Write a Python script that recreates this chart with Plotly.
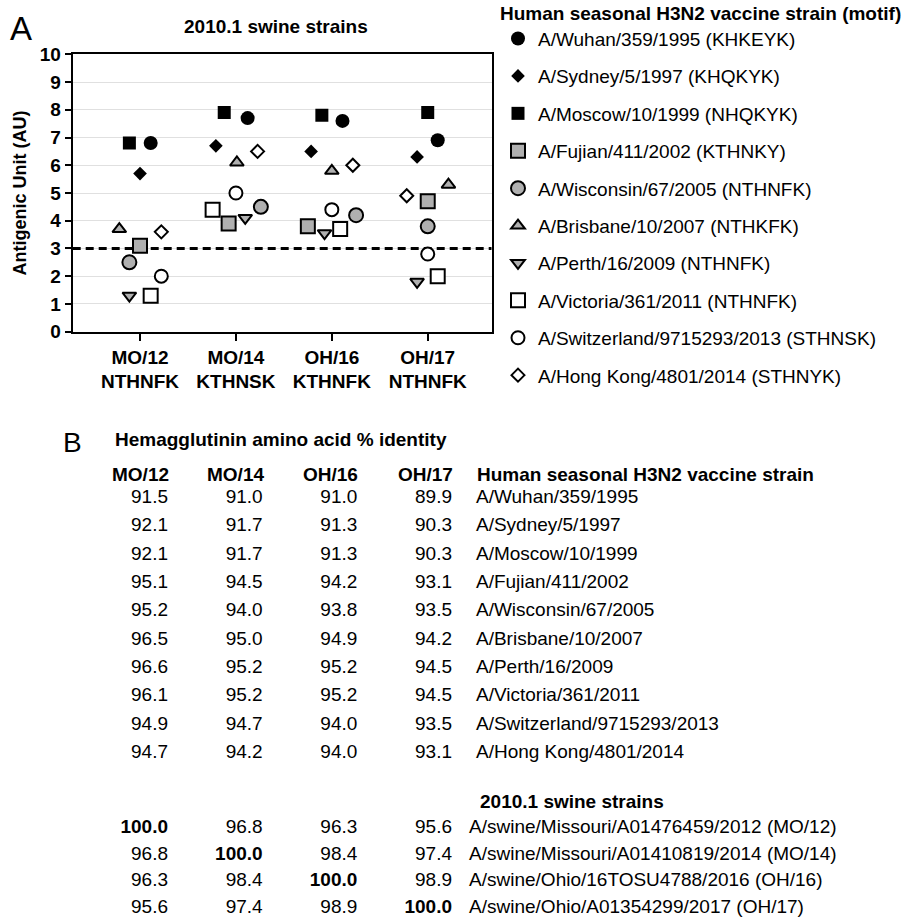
import plotly.graph_objects as go

# ---------------- data ----------------
categories = ["MO/12", "MO/14", "OH/16", "OH/17"]
category_motifs = ["NTHNFK", "KTHNSK", "KTHNFK", "NTHNFK"]

strains = ["A/Wuhan/359/1995", "A/Sydney/5/1997", "A/Moscow/10/1999",
           "A/Fujian/411/2002", "A/Wisconsin/67/2005", "A/Brisbane/10/2007",
           "A/Perth/16/2009", "A/Victoria/361/2011",
           "A/Switzerland/9715293/2013", "A/Hong Kong/4801/2014"]
strain_motifs = ["KHKEYK", "KHQKYK", "NHQKYK", "KTHNKY", "NTHNFK",
                 "NTHKFK", "NTHNFK", "NTHNFK", "STHNSK", "STHNYK"]

# antigenic units (AU) against MO/12, MO/14, OH/16, OH/17
au_wuhan = [6.8, 7.7, 7.6, 6.9]
au_sydney = [5.7, 6.7, 6.5, 6.3]
au_moscow = [6.8, 7.9, 7.8, 7.9]
au_fujian = [3.1, 3.9, 3.8, 4.7]
au_wisconsin = [2.5, 4.5, 4.2, 3.8]
au_brisbane = [3.7, 6.1, 5.8, 5.3]
au_perth = [1.3, 4.1, 3.55, 1.8]
au_victoria = [1.3, 4.4, 3.7, 2.0]
au_switzerland = [2.0, 5.0, 4.4, 2.8]
au_hongkong = [3.6, 6.5, 6.0, 4.9]
threshold = 3

# hemagglutinin amino acid % identity
identity_mo12 = [91.5, 92.1, 92.1, 95.1, 95.2, 96.5, 96.6, 96.1, 94.9, 94.7]
identity_mo14 = [91.0, 91.7, 91.7, 94.5, 94.0, 95.0, 95.2, 95.2, 94.7, 94.2]
identity_oh16 = [91.0, 91.3, 91.3, 94.2, 93.8, 94.9, 95.2, 95.2, 94.0, 94.0]
identity_oh17 = [89.9, 90.3, 90.3, 93.1, 93.5, 94.2, 94.5, 94.5, 93.5, 93.1]

swine_strains = ["A/swine/Missouri/A01476459/2012 (MO/12)",
                 "A/swine/Missouri/A01410819/2014 (MO/14)",
                 "A/swine/Ohio/16TOSU4788/2016 (OH/16)",
                 "A/swine/Ohio/A01354299/2017 (OH/17)"]
swine_mo12 = [100.0, 96.8, 96.3, 95.6]
swine_mo14 = [96.8, 100.0, 98.4, 97.4]
swine_oh16 = [96.3, 98.4, 100.0, 98.9]
swine_oh17 = [95.6, 97.4, 98.9, 100.0]

# ---------------- styling (positions / sizes / looks) ----------------
FONT = "Liberation Sans, Arial, Helvetica, sans-serif"
GRAY = "#b0b0b0"
W, H = 909, 920
XRANGE = [-0.702, 3.667]

au_series = [au_wuhan, au_sydney, au_moscow, au_fujian, au_wisconsin,
             au_brisbane, au_perth, au_victoria, au_switzerland, au_hongkong]
# horizontal jitter of each strain's marker inside a category (category units)
jitter = [
    [0.111, 0.122, 0.111, 0.104],
    [0.0, -0.209, -0.216, -0.111],
    [-0.111, -0.122, -0.104, 0.0],
    [0.0, -0.076, -0.25, 0.0],
    [-0.111, 0.26, 0.253, 0.0],
    [-0.216, 0.01, 0.0, 0.216],
    [-0.111, 0.097, -0.076, -0.111],
    [0.111, -0.243, 0.087, 0.104],
    [0.222, 0.0, 0.0, 0.0],
    [0.222, 0.226, 0.219, -0.219],
]
OUT = dict(width=2, color="black")
styles = [
    dict(symbol="circle", size=14, color="black", line=dict(width=0)),
    dict(symbol="diamond", size=10.5, color="black", line=dict(width=0)),
    dict(symbol="square", size=13, color="black", line=dict(width=0)),
    dict(symbol="square", size=14, color=GRAY, line=OUT),
    dict(symbol="circle", size=14, color=GRAY, line=OUT),
    dict(symbol="triangle-up", size=12, color=GRAY, line=OUT),
    dict(symbol="triangle-down", size=12, color=GRAY, line=OUT),
    dict(symbol="square", size=14, color="white", line=OUT),
    dict(symbol="circle", size=13, color="white", line=OUT),
    dict(symbol="diamond", size=10, color="white", line=OUT),
]

fig = go.Figure()

# dashed threshold line across the whole plot (drawn under the markers)
fig.add_trace(go.Scatter(
    x=XRANGE, y=[threshold, threshold], mode="lines",
    line=dict(color="black", width=3, dash="8px,5px"),
    xaxis="x", yaxis="y", showlegend=False, hoverinfo="skip", cliponaxis=True,
))

for i, (name, motif) in enumerate(zip(strains, strain_motifs)):
    xs = [c + j for c, j in zip(range(len(categories)), jitter[i])]
    fig.add_trace(go.Scatter(
        x=xs, y=au_series[i], mode="markers",
        name=f"{name} ({motif})", legendgroup=f"g{i}",
        marker=styles[i], xaxis="x", yaxis="y", hoverinfo="skip",
    ))

# ---------------- panel B as text on hidden axes ----------------
id_cols = [identity_mo12, identity_mo14, identity_oh16, identity_oh17]
sw_cols = [swine_mo12, swine_mo14, swine_oh16, swine_oh17]
human_rows = [1 + r for r in range(len(strains))]
swine_rows = [12.65 + 0.94 * r for r in range(len(swine_strains))]

def fmt(v):
    s = f"{v:.1f}"
    return f"<b>{s}</b>" if v >= 100 else s

for c in range(len(categories)):
    vals = id_cols[c] + sw_cols[c]
    fig.add_trace(go.Scatter(
        x=[c] * len(vals), y=human_rows + swine_rows, mode="text",
        text=[fmt(v) for v in vals], textposition="middle left",
        textfont=dict(family=FONT, size=19, color="black"),
        xaxis="x2", yaxis="y2", showlegend=False, hoverinfo="skip",
    ))

fig.add_trace(go.Scatter(
    x=[3.253] * len(strains), y=human_rows, mode="text", text=strains,
    textposition="middle right", textfont=dict(family=FONT, size=19, color="black"),
    xaxis="x2", yaxis="y2", showlegend=False, hoverinfo="skip",
))
fig.add_trace(go.Scatter(
    x=[3.18] * len(swine_strains), y=swine_rows, mode="text", text=swine_strains,
    textposition="middle right", textfont=dict(family=FONT, size=19, color="black"),
    xaxis="x2", yaxis="y2", showlegend=False, hoverinfo="skip",
))

annotations = [
    dict(text="A", x=21 / W, y=1 - 29 / H, xref="paper", yref="paper",
         showarrow=False, xanchor="center", yanchor="middle",
         font=dict(family=FONT, size=33, color="black")),
    dict(text="<b>2010.1 swine strains</b>", x=276 / W, y=1 - 26.7 / H,
         xref="paper", yref="paper", showarrow=False, xanchor="center",
         yanchor="middle", font=dict(family=FONT, size=19, color="black")),
    dict(text="B", x=-1.014, y=-0.953, xref="x2", yref="y2", showarrow=False,
         xanchor="center", yanchor="middle",
         font=dict(family=FONT, size=28, color="black")),
    dict(text="<b>Hemagglutinin amino acid % identity</b>", x=-0.581, y=-1.059,
         xref="x2", yref="y2", showarrow=False, xanchor="left", yanchor="middle",
         font=dict(family=FONT, size=19, color="black")),
    dict(text="<b>Human seasonal H3N2 vaccine strain</b>", x=3.243, y=0.176,
         xref="x2", yref="y2", showarrow=False, xanchor="left", yanchor="middle",
         font=dict(family=FONT, size=19, color="black")),
    dict(text="<b>2010.1 swine strains</b>", x=3.275, y=11.71,
         xref="x2", yref="y2", showarrow=False, xanchor="left", yanchor="middle",
         font=dict(family=FONT, size=19, color="black")),
]
for c, cat in enumerate(categories):
    annotations.append(dict(
        text=f"<b>{cat}</b>", x=c + 0.03, y=0.176, xref="x2", yref="y2",
        showarrow=False, xanchor="right", yanchor="middle",
        font=dict(family=FONT, size=19, color="black")))

fig.update_layout(
    template="none",
    width=W, height=H,
    margin=dict(l=0, r=0, t=0, b=0, pad=0, autoexpand=False),
    paper_bgcolor="white", plot_bgcolor="white",
    font=dict(family=FONT, size=19, color="black"),
    showlegend=True,
    legend=dict(
        x=498 / W, y=1 + 5 / H, xanchor="left", yanchor="top",
        bgcolor="rgba(0,0,0,0)", borderwidth=0,
        font=dict(family=FONT, size=19, color="black"),
        title=dict(text="<b>Human seasonal H3N2 vaccine strain (motif)</b>",
                   font=dict(family=FONT, size=19, color="black"), side="top"),
        tracegroupgap=9.7, traceorder="grouped",
    ),
    xaxis=dict(
        domain=[72.7 / W, 491.7 / W], range=XRANGE, anchor="y",
        tickmode="array", tickvals=list(range(len(categories))),
        ticktext=[f"{c}<br>{m}" for c, m in zip(categories, category_motifs)],
        tickfont=dict(family=FONT, size=19, color="black", weight="bold"),
        ticks="outside", ticklen=7, tickwidth=2, tickcolor="black",
        showline=True, linewidth=2, linecolor="black", mirror=True,
        showgrid=False, zeroline=False, automargin=False,
    ),
    yaxis=dict(
        domain=[1 - 331.7 / H, 1 - 54.3 / H], range=[0, 10], anchor="x",
        tickmode="linear", tick0=0, dtick=1,
        tickfont=dict(family=FONT, size=19, color="black", weight="bold"),
        ticks="outside", ticklen=6, tickwidth=2, tickcolor="black",
        showline=True, linewidth=2, linecolor="black", mirror=True,
        showgrid=True, gridcolor="#e0e0e0", gridwidth=1, zeroline=False,
        title=dict(text="Antigenic Unit (AU)",
                   font=dict(family=FONT, size=18, color="black", weight="bold")),
        automargin=False,
    ),
    xaxis2=dict(domain=[0, 1], range=[-168 / 94.67, (W - 168) / 94.67],
                anchor="y2", visible=False, fixedrange=True),
    yaxis2=dict(domain=[0, 0.55], range=[(H - 470) / 28.33, (414 - 470) / 28.33],
                anchor="x2", visible=False, fixedrange=True),
    annotations=annotations,
    hovermode=False,
)

fig.write_html(
    "out.html",
    config={"displayModeBar": False},
    post_script="document.body.style.margin='0px';document.body.style.overflow='hidden';",
)
